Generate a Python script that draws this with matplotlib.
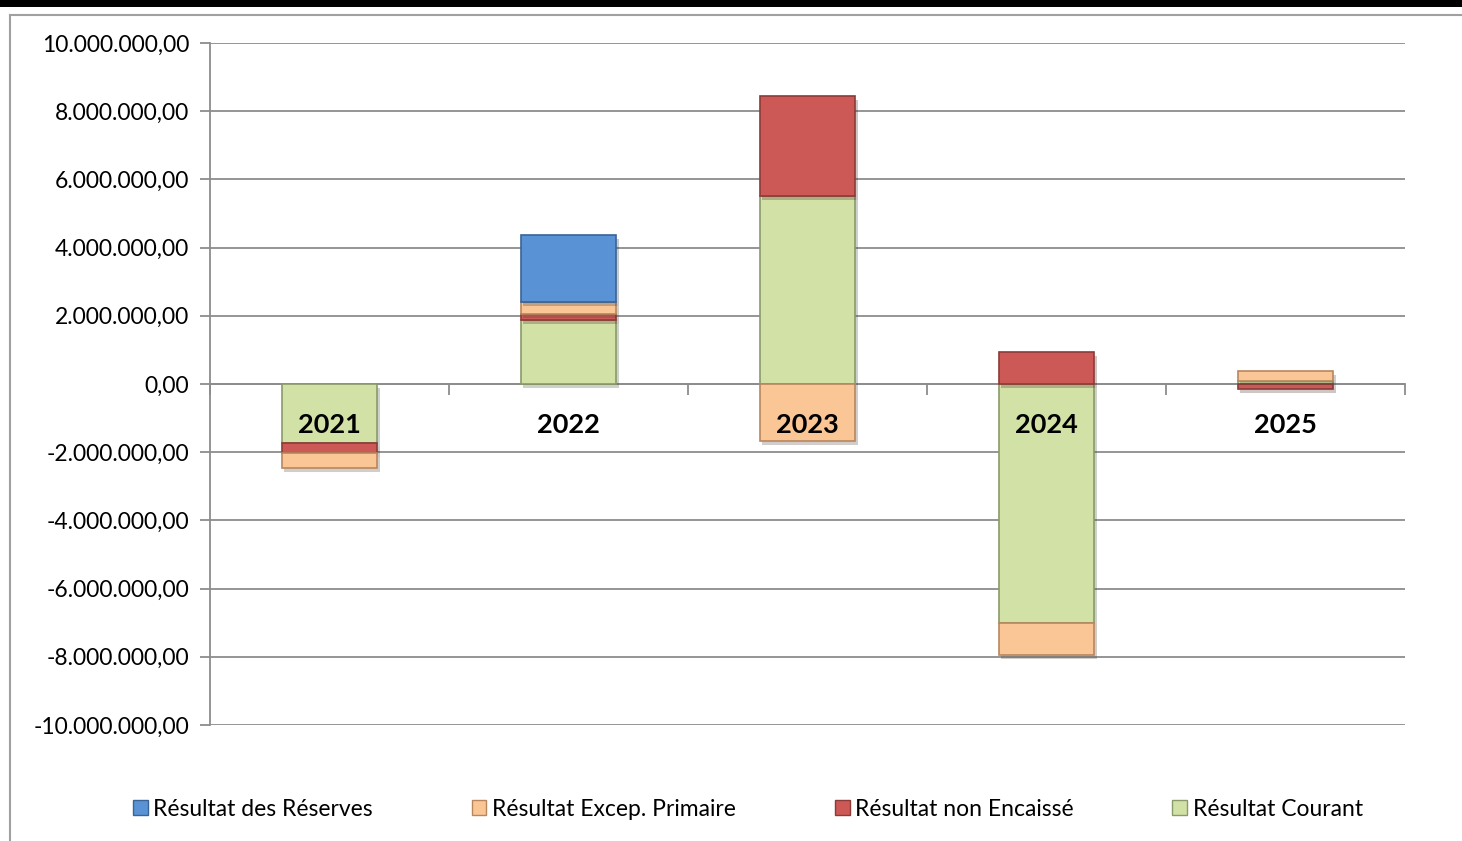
import matplotlib.pyplot as plt
import matplotlib.patheffects as pe
from matplotlib.lines import Line2D
from matplotlib.patches import Rectangle
import numpy as np

# Data (values in euros)
years = ['2021', '2022', '2023', '2024', '2025']
courant = [-1720000, 1880000, 5510000, -7000000, 90000]
non_encaisse = [-300000, 170000, 2940000, 940000, -150000]
excep_primaire = [-440000, 350000, -1670000, -950000, 300000]
reserves = [0, 1970000, 0, 0, 0]

# stacking order from zero outward
series = [
    ('Résultat Courant', courant, '#D2E1A6', '#8A9A6A'),
    ('Résultat non Encaissé', non_encaisse, '#CD5956', '#8C3A37'),
    ('Résultat Excep. Primaire', excep_primaire, '#FBC695', '#B8875E'),
    ('Résultat des Réserves', reserves, '#5993D6', '#3A6496'),
]
legend_order = ['Résultat des Réserves', 'Résultat Excep. Primaire',
                'Résultat non Encaissé', 'Résultat Courant']

plt.rcParams['font.family'] = ['Lato', 'DejaVu Sans']

fig = plt.figure(figsize=(14.62, 8.41), dpi=100)
ax = fig.add_axes([210 / 1462, 1 - 725 / 841, (1405 - 210) / 1462, (725 - 43) / 841])

x = np.arange(len(years))
pos_bottom = np.zeros(len(years))
neg_bottom = np.zeros(len(years))
handles = {}
for name, vals, face, edge in series:
    vals = np.array(vals, dtype=float)
    bottom = np.where(vals >= 0, pos_bottom, neg_bottom)
    bars = ax.bar(x, vals, 0.4, bottom=bottom, color=face, edgecolor=edge,
                  linewidth=1.2, zorder=3)
    for b, v in zip(bars, vals):
        if v == 0:
            b.set_visible(False)
        b.set_path_effects([pe.SimplePatchShadow(offset=(2, -3), alpha=0.25), pe.Normal()])
    pos_bottom += np.where(vals > 0, vals, 0)
    neg_bottom += np.where(vals < 0, vals, 0)
    handles[name] = Rectangle((0, 0), 1, 1, facecolor=face, edgecolor=edge, linewidth=1)

ax.set_xlim(-0.5, len(years) - 0.5)
ax.set_ylim(-10000000, 10000000)
yt = np.arange(-10000000, 10000001, 2000000)
ax.set_yticks(yt)
ax.set_yticklabels([f'{v:,.2f}'.replace(',', ' ').replace('.', ',').replace(' ', '.') for v in yt],
                   fontsize=16.5)
ax.grid(axis='y', color='#8C8C8C', linewidth=1.3, zorder=0)
ax.set_axisbelow(True)

for s in ['top', 'right']:
    ax.spines[s].set_visible(False)
ax.spines['left'].set_color('#8C8C8C')
ax.spines['left'].set_linewidth(1.3)
ax.spines['bottom'].set_position(('data', 0))
ax.spines['bottom'].set_color('#8C8C8C')
ax.spines['bottom'].set_linewidth(1.3)
ax.spines['bottom'].set_zorder(2)
ax.tick_params(axis='y', length=7, color='#8C8C8C', width=1.3, pad=8)

ax.set_xticks(x)
ax.set_xticklabels(years, fontsize=19.5, fontweight='bold')
ax.tick_params(axis='x', length=0, pad=21)
ax.set_xticks(np.arange(-0.5, len(years)), minor=True)
ax.tick_params(axis='x', which='minor', length=8, color='#8C8C8C', width=1.3, direction='out')
ax.xaxis.set_zorder(5)

fig.legend([handles[n] for n in legend_order], legend_order, loc='center',
           bbox_to_anchor=(0.5116, 1 - 809 / 841), ncol=4, frameon=False, fontsize=16.5,
           handlelength=0.65, handleheight=0.65, handletextpad=0.25, columnspacing=4.3)

# frame decorations
fig.add_artist(Rectangle((0, 1 - 7 / 841), 1, 7 / 841, transform=fig.transFigure,
                         facecolor='black', edgecolor='none'))
fig.add_artist(Line2D([10 / 1462, 1], [1 - 15 / 841] * 2, transform=fig.transFigure,
                      color='#A0A0A0', linewidth=1.5))
fig.add_artist(Line2D([10 / 1462] * 2, [0, 1 - 15 / 841], transform=fig.transFigure,
                      color='#A0A0A0', linewidth=1.5))

fig.savefig('out.png', dpi=100)
